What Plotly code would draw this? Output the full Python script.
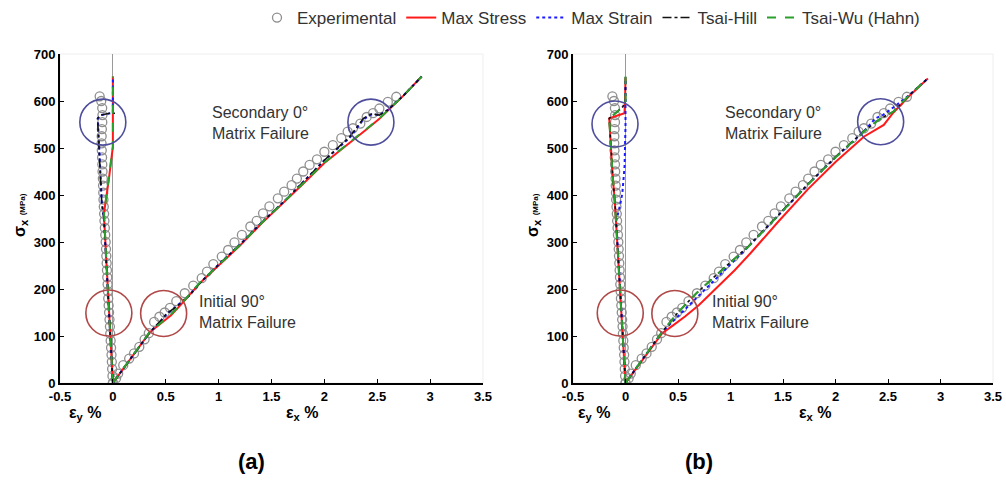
import plotly.graph_objects as go

W, H = 1006, 481

# ---------------- experimental data (same test in both panels) ----------------
exp_ex_strain = [0.0, 0.03, 0.05, 0.098, 0.154, 0.20, 0.25, 0.30, 0.34, 0.39, 0.44, 0.49, 0.54,
                 0.60, 0.68, 0.76, 0.84, 0.89, 0.95, 1.03, 1.09, 1.15, 1.22, 1.30, 1.36, 1.42,
                 1.48, 1.56, 1.62, 1.69, 1.74, 1.80, 1.86, 1.93, 2.00, 2.08, 2.16, 2.22, 2.27,
                 2.34, 2.40, 2.46, 2.52, 2.60, 2.68]
exp_ex_stress = [0, 10, 20, 38, 52, 63, 77, 93, 106, 130, 141, 150, 160,
                 174, 191, 207, 223, 237, 253, 269, 283, 299, 315, 333, 345, 361,
                 376, 393, 407, 421, 435, 450, 464, 476, 492, 506, 521, 535, 542,
                 552, 566, 574, 584, 598, 609]

exp_ey_strain = [0.0, -0.004, -0.007, -0.010, -0.013, -0.017, -0.021, -0.025, -0.028, -0.032,
                 -0.036, -0.040, -0.044, -0.047, -0.050, -0.053, -0.056, -0.059, -0.062, -0.065,
                 -0.068, -0.072, -0.076, -0.080, -0.083, -0.086, -0.089, -0.091, -0.093, -0.095,
                 -0.098, -0.100, -0.102, -0.105, -0.107, -0.106, -0.104, -0.100, -0.099, -0.101,
                 -0.110, -0.125]
exp_ey_stress = [0, 15, 30, 45, 60, 75, 90, 105, 120, 135,
                 150, 165, 180, 195, 210, 225, 240, 255, 270, 285,
                 300, 315, 330, 345, 360, 375, 390, 405, 420, 435,
                 450, 465, 480, 495, 510, 525, 540, 555, 570, 585,
                 600, 610]

# ---------------- panel (a): model predictions ----------------
a_stress_ex_x = [0, 0.1, 0.2, 0.35, 0.45, 0.55, 0.665, 0.82, 1.0, 1.2, 1.4, 1.64, 1.8, 2.0,
                 2.24, 2.40, 2.52, 2.62, 2.75, 2.92]
a_stress_ex_y = [0, 31, 62, 108, 126, 144, 172, 212, 250, 292, 338, 389, 424, 468,
                 510, 540, 562, 583, 612, 652]
a_stress_ey_x = [0, -0.02, -0.04, -0.06, -0.085, -0.04, 0.0, 0.0]
a_stress_ey_y = [0, 80, 160, 250, 360, 430, 503, 652]

a_strain_ex_x = [0, 0.1, 0.2, 0.35, 0.45, 0.51, 0.60, 0.72, 0.82, 1.0, 1.2, 1.4, 1.64, 1.8,
                 2.0, 2.24, 2.37, 2.45, 2.52, 2.60, 2.75, 2.92]
a_strain_ex_y = [0, 31, 62, 108, 131, 147, 163, 186, 212, 252, 294, 340, 391, 428,
                 474, 522, 561, 572, 570, 581, 612, 652]
a_strain_ey_x = [0, -0.02, -0.04, -0.06, -0.085, -0.105, -0.12, -0.13, -0.142, -0.11,
                 -0.04, 0.0, 0.0]
a_strain_ey_y = [0, 80, 160, 250, 350, 385, 450, 500, 563, 570, 573, 575, 652]

a_hill_ex_x = [0, 0.1, 0.2, 0.35, 0.45, 0.51, 0.60, 0.72, 0.82, 1.0, 1.2, 1.4, 1.64, 1.8,
               2.0, 2.24, 2.37, 2.45, 2.52, 2.60, 2.75, 2.92]
a_hill_ex_y = [0, 31, 62, 108, 132, 148, 162, 185, 212, 252, 294, 340, 391, 428,
               474, 524, 563, 573, 570, 581, 612, 652]
a_hill_ey_x = [0, -0.02, -0.04, -0.06, -0.085, -0.105, -0.12, -0.13, -0.145, -0.115,
               -0.03, 0.02]
a_hill_ey_y = [0, 80, 160, 250, 350, 383, 450, 500, 563, 570, 574, 574]

a_wu_ex_x = [0, 0.1, 0.2, 0.35, 0.45, 0.55, 0.665, 0.82, 1.0, 1.2, 1.4, 1.64, 1.8, 2.0,
             2.24, 2.40, 2.52, 2.62, 2.75, 2.92]
a_wu_ex_y = [0, 31, 62, 109, 127, 146, 173, 213, 251, 293, 339, 390, 425, 469,
             511, 541, 563, 584, 612, 652]
a_wu_ey_x = [0, -0.02, -0.04, -0.06, -0.083, -0.04, 0.0, 0.0]
a_wu_ey_y = [0, 80, 160, 250, 360, 432, 503, 652]

# ---------------- panel (b): model predictions ----------------
b_stress_ex_x = [0, 0.1, 0.2, 0.35, 0.45, 0.57, 0.70, 0.82, 1.04, 1.19, 1.45, 1.736, 2.0,
                 2.27, 2.40, 2.46, 2.55, 2.70, 2.88]
b_stress_ex_y = [0, 31, 62, 106, 122, 142, 166, 192, 240, 276, 342, 412, 470,
                 524, 540, 549, 575, 610, 648]
b_stress_ey_x = [0, -0.025, -0.05, -0.075, -0.10, -0.125, -0.14, -0.155, -0.09, -0.01,
                 -0.005, 0.0]
b_stress_ey_y = [0, 100, 200, 300, 380, 450, 500, 563, 568, 574, 595, 650]

b_strain_ex_x = [0, 0.1, 0.2, 0.35, 0.50, 0.65, 0.80, 1.0, 1.17, 1.45, 1.736, 2.0, 2.27,
                 2.38, 2.45, 2.52, 2.70, 2.88]
b_strain_ex_y = [0, 31, 62, 109, 142, 175, 210, 252, 290, 355, 422, 480, 535,
                 563, 570, 581, 612, 648]
b_strain_ey_x = [0, -0.025, -0.05, -0.075, -0.088, -0.05, -0.03, -0.009, 0.0, 0.0]
b_strain_ey_y = [0, 100, 200, 300, 345, 380, 404, 461, 546, 650]

b_hill_ex_x = [0, 0.1, 0.2, 0.35, 0.50, 0.67, 0.90, 1.17, 1.45, 1.736, 2.0, 2.27, 2.43,
               2.55, 2.70, 2.88]
b_hill_ex_y = [0, 31, 62, 109, 150, 190, 237, 291, 356, 423, 481, 536, 563,
               577, 612, 648]
b_hill_ey_x = [0, -0.025, -0.05, -0.075, -0.10, -0.125, -0.14, -0.155, -0.09, -0.025,
               0.0, 0.0]
b_hill_ey_y = [0, 100, 200, 300, 380, 450, 500, 563, 575, 588, 600, 650]

b_wu_ex_x = [0, 0.1, 0.2, 0.35, 0.50, 0.67, 0.90, 1.17, 1.45, 1.736, 2.0, 2.27, 2.43,
             2.55, 2.70, 2.88]
b_wu_ex_y = [0, 31, 62, 109, 150, 190, 236, 290, 355, 422, 480, 535, 563,
             577, 612, 648]
b_wu_ey_x = [0, -0.025, -0.05, -0.075, -0.10, -0.125, -0.14, -0.155, -0.09, -0.025,
             0.0, 0.0]
b_wu_ey_y = [0, 100, 200, 300, 380, 450, 500, 563, 575, 588, 600, 652]

# highlight circles: (x, stress, colour)
a_marks = [(-0.095, 555, "#4e4e9c"), (-0.038, 149, "#b04848"),
           (0.48, 148, "#b04848"), (2.44, 555, "#4e4e9c")]
b_marks = [(-0.10, 551, "#4e4e9c"), (-0.05, 149, "#b04848"),
           (0.47, 148, "#b04848"), (2.43, 556, "#4e4e9c")]

x_ticks = [-0.5, 0, 0.5, 1, 1.5, 2, 2.5, 3, 3.5]
x_ticktext = ["-0.5", "0", "0.5", "1", "1.5", "2", "2.5", "3", "3.5"]
y_ticks = [0, 100, 200, 300, 400, 500, 600, 700]


def px(x):
    return x / W


def py(y):
    return 1 - y / H


STYLES = {
    "Max Stress": dict(color="#ff1a1a", width=2, dash="solid"),
    "Max Strain": dict(color="#1a1aff", width=2, dash="dot"),
    "Tsai-Hill": dict(color="#111111", width=1.6, dash="dashdot"),
    "Tsai-Wu (Hahn)": dict(color="#2ca02c", width=2, dash="dash"),
}

fig = go.Figure()

panels = [
    ("x", "y", {
        "Max Stress": [(a_stress_ex_x, a_stress_ex_y), (a_stress_ey_x, a_stress_ey_y)],
        "Max Strain": [(a_strain_ex_x, a_strain_ex_y), (a_strain_ey_x, a_strain_ey_y)],
        "Tsai-Hill": [(a_hill_ex_x, a_hill_ex_y), (a_hill_ey_x, a_hill_ey_y)],
        "Tsai-Wu (Hahn)": [(a_wu_ex_x, a_wu_ex_y), (a_wu_ey_x, a_wu_ey_y)],
    }, a_marks),
    ("x2", "y2", {
        "Max Stress": [(b_stress_ex_x, b_stress_ex_y), (b_stress_ey_x, b_stress_ey_y)],
        "Max Strain": [(b_strain_ex_x, b_strain_ex_y), (b_strain_ey_x, b_strain_ey_y)],
        "Tsai-Hill": [(b_hill_ex_x, b_hill_ex_y), (b_hill_ey_x, b_hill_ey_y)],
        "Tsai-Wu (Hahn)": [(b_wu_ex_x, b_wu_ex_y), (b_wu_ey_x, b_wu_ey_y)],
    }, b_marks),
]

for i, (xa, ya, models, marks) in enumerate(panels):
    first = i == 0
    # experimental points
    for k, (sx, sy) in enumerate([(exp_ex_strain, exp_ex_stress), (exp_ey_strain, exp_ey_stress)]):
        fig.add_trace(go.Scatter(
            x=sx, y=sy, mode="markers", xaxis=xa, yaxis=ya,
            name="Experimental", legendgroup="exp",
            showlegend=first and k == 0,
            marker=dict(symbol="circle-open", size=9, color="#8f8f8f",
                        line=dict(width=1.3, color="#8f8f8f")),
        ))
    for name in ["Max Stress", "Max Strain", "Tsai-Hill", "Tsai-Wu (Hahn)"]:
        for k, (lx, ly) in enumerate(models[name]):
            fig.add_trace(go.Scatter(
                x=lx, y=ly, mode="lines", xaxis=xa, yaxis=ya,
                name=name, legendgroup=name,
                showlegend=first and k == 0,
                line=STYLES[name],
            ))
    for (cx, cy, col) in marks:
        fig.add_shape(type="circle", xref=xa, yref=ya,
                      xsizemode="pixel", ysizemode="pixel",
                      xanchor=cx, yanchor=cy, x0=-23, x1=23, y0=-23, y1=23,
                      line=dict(color=col, width=1.6))

# plot areas in pixels
left_dom = [px(60), px(483)]
right_dom = [px(573), px(993)]
ydom = [py(383), py(54)]

axis_common = dict(
    showline=True, linecolor="black", linewidth=2, mirror=False,
    ticks="inside", ticklen=4, tickcolor="black", tickwidth=1.2,
    showgrid=False, ticklabeloverflow="allow",
    tickfont=dict(family="Liberation Sans, Arial", size=13, color="black", weight="bold"),
)
xaxis_common = dict(axis_common, range=[-0.5, 3.5], tickvals=x_ticks, ticktext=x_ticktext,
                    zeroline=True, zerolinecolor="#9a9a9a", zerolinewidth=1.2)
yaxis_common = dict(axis_common, range=[0, 700], tickvals=y_ticks, zeroline=False)

fig.update_layout(
    width=W, height=H,
    margin=dict(l=0, r=0, t=0, b=0, autoexpand=False),
    paper_bgcolor="white", plot_bgcolor="white",
    xaxis=dict(xaxis_common, domain=left_dom, anchor="y"),
    yaxis=dict(yaxis_common, domain=ydom, anchor="x"),
    xaxis2=dict(xaxis_common, domain=right_dom, anchor="y2"),
    yaxis2=dict(yaxis_common, domain=ydom, anchor="x2"),
    legend=dict(orientation="h", x=px(591), xanchor="center", y=1, yanchor="top",
                font=dict(family="Liberation Sans Narrow, Arial Narrow, Liberation Sans",
                          size=17, color="#333333"),
                itemwidth=30, tracegroupgap=0, bgcolor="rgba(0,0,0,0)"),
)

# faint frame around each plot area
for x0, x1 in [(60, 483), (573, 993)]:
    fig.add_shape(type="rect", xref="paper", yref="paper",
                  x0=px(x0), x1=px(x1), y0=py(383), y1=py(54),
                  line=dict(color="#eeeeee", width=1), layer="below")

notes = [
    (210, 123, "Secondary 0°<br>Matrix Failure"),
    (197, 312, "Initial 90°<br>Matrix Failure"),
    (723, 123, "Secondary 0°<br>Matrix Failure"),
    (710, 312, "Initial 90°<br>Matrix Failure"),
]
for x, y, t in notes:
    fig.add_annotation(xref="paper", yref="paper", x=px(x), y=py(y), text=t,
                       showarrow=False, xanchor="left", yanchor="middle", align="left",
                       font=dict(family="Liberation Sans, Arial", size=16, color="#333333"))

bold = dict(family="Liberation Sans, Arial", color="black", weight="bold")
for x in [20, 533]:
    fig.add_annotation(xref="paper", yref="paper", x=px(x), y=py(215),
                       text="σ<sub>x</sub> <span style='font-size:8px'>(MPa)</span>",
                       textangle=-90, showarrow=False, xanchor="center", yanchor="middle",
                       font=dict(bold, size=16))
for x, t in [(85, "ε<sub>y</sub> %"), (302, "ε<sub>x</sub> %"),
             (594, "ε<sub>y</sub> %"), (815, "ε<sub>x</sub> %")]:
    fig.add_annotation(xref="paper", yref="paper", x=px(x), y=py(402), text=t,
                       showarrow=False, xanchor="center", yanchor="top",
                       font=dict(bold, size=16))
for x, t in [(252, "(a)"), (699, "(b)")]:
    fig.add_annotation(xref="paper", yref="paper", x=px(x), y=py(461), text=t,
                       showarrow=False, xanchor="center", yanchor="middle",
                       font=dict(bold, size=22))

fig.write_html("out.html")
